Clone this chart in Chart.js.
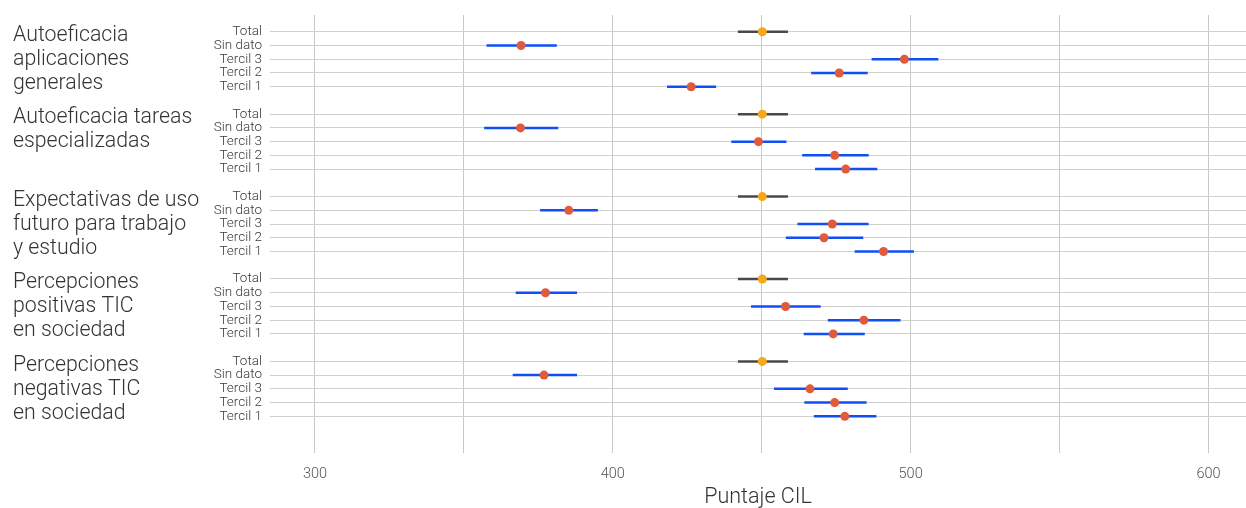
<!DOCTYPE html>
<html>
<head>
<meta charset="utf-8">
<script src="https://cdn.jsdelivr.net/npm/chart.js@4"></script>
<style>
  html, body { margin: 0; padding: 0; background: #fff; }
  #wrap { width: 1246px; height: 508px; }
</style>
</head>
<body>
<div id="wrap"><canvas id="chart"></canvas></div>
<script>
// indicators (group labels, one line per entry)
const groupLabels = [
  ['Autoeficacia', 'aplicaciones', 'generales'],
  ['Autoeficacia tareas', 'especializadas'],
  ['Expectativas de uso', 'futuro para trabajo', 'y estudio'],
  ['Percepciones', 'positivas TIC', 'en sociedad'],
  ['Percepciones', 'negativas TIC', 'en sociedad']
];
const rowLabels = ['Total', 'Sin dato', 'Tercil 3', 'Tercil 2', 'Tercil 1'];
const xTicks = [300, 350, 400, 450, 500, 550, 600];

// mean score per group, in rowLabels order
const medias = [
  [450.2, 369.2, 497.9, 476.0, 426.3],
  [450.2, 369.0, 448.9, 474.5, 478.2],
  [450.2, 385.2, 473.7, 470.9, 490.9],
  [450.2, 377.4, 458.0, 484.3, 474.0],
  [450.2, 376.9, 466.2, 474.5, 477.9]
];
// confidence interval bounds
const limInf = [
  [442.0, 357.6, 486.9, 466.6, 418.2],
  [442.0, 356.8, 439.8, 463.6, 467.9],
  [442.0, 375.6, 462.0, 458.1, 481.2],
  [442.0, 367.4, 446.4, 472.2, 464.1],
  [442.0, 366.4, 454.1, 464.3, 467.5]
];
const limSup = [
  [458.8, 381.2, 509.3, 485.6, 434.7],
  [458.8, 381.7, 458.3, 485.9, 488.8],
  [458.8, 395.0, 485.9, 484.1, 501.1],
  [458.8, 388.0, 469.8, 496.6, 484.6],
  [458.8, 388.0, 478.9, 485.2, 488.5]
];

const rowIndex = (g, r) => g * 6 + r;
const rowTicks = [];
groupLabels.forEach((_, g) => rowLabels.forEach((_, r) => rowTicks.push(rowIndex(g, r))));

const totalDots = [];
const subDots = [];
const intervalSets = [];
medias.forEach((vals, g) => {
  vals.forEach((v, r) => {
    const y = rowIndex(g, r);
    (r === 0 ? totalDots : subDots).push({ x: v, y: y });
    intervalSets.push({
      data: [{ x: limInf[g][r], y: y }, { x: limSup[g][r], y: y }],
      showLine: true,
      borderColor: r === 0 ? 'rgba(55,55,55,0.9)' : '#0f4ff5',
      borderWidth: 2.5,
      pointRadius: 0
    });
  });
});

const groupLabelPlugin = {
  id: 'groupLabels',
  afterDraw(chart) {
    const ctx = chart.ctx;
    const yScale = chart.scales.y;
    ctx.save();
    ctx.font = '300 21.3px Roboto';
    ctx.fillStyle = '#333';
    ctx.textBaseline = 'middle';
    ctx.textAlign = 'left';
    groupLabels.forEach((lines, g) => {
      const top = yScale.getPixelForValue(rowIndex(g, 0)) + 4;
      lines.forEach((line, i) => ctx.fillText(line, 13, top + i * 24));
    });
    ctx.restore();
  }
};

new Chart(document.getElementById('chart'), {
  type: 'scatter',
  data: {
    datasets: [
      { data: totalDots, backgroundColor: '#f5a81c', pointRadius: 4.5, borderWidth: 0 },
      { data: subDots, backgroundColor: '#e05a3c', pointRadius: 4.5, borderWidth: 0 },
      ...intervalSets
    ]
  },
  options: {
    responsive: true,
    maintainAspectRatio: false,
    animation: false,
    layout: { autoPadding: false, padding: { top: 15, right: 0, bottom: 0, left: 0 } },
    plugins: { legend: { display: false }, tooltip: { enabled: false } },
    scales: {
      x: {
        min: 284.9,
        max: 612.6,
        afterBuildTicks: axis => { axis.ticks = xTicks.map(v => ({ value: v })); },
        afterFit: axis => {
          axis.height = 55;
          axis.paddingLeft = 0;
          axis.paddingRight = 0;
        },
        grid: { color: '#c8c8c8', drawTicks: false },
        border: { display: false },
        ticks: {
          padding: 13,
          color: '#555',
          font: { family: 'Roboto', size: 14.5, weight: 300 },
          callback: v => (v % 100 === 0 ? v : '')
        },
        title: {
          display: true,
          text: 'Puntaje CIL',
          color: '#333',
          padding: { top: 0, bottom: -3 },
          font: { family: 'Roboto', size: 21.5, weight: 300 }
        }
      },
      y: {
        reverse: true,
        min: -1.22,
        max: 30.67,
        afterBuildTicks: axis => { axis.ticks = rowTicks.map(v => ({ value: v })); },
        afterFit: axis => {
          axis.width = 270;
          axis.paddingTop = 0;
          axis.paddingBottom = 0;
        },
        grid: { color: '#cfcfcf', drawTicks: false },
        border: { display: false },
        ticks: {
          autoSkip: false,
          padding: 8,
          color: '#3a3a3a',
          font: { family: 'Roboto', size: 13.5, weight: 300 },
          callback: v => rowLabels[v % 6]
        }
      }
    }
  },
  plugins: [groupLabelPlugin]
});
</script>
</body>
</html>
